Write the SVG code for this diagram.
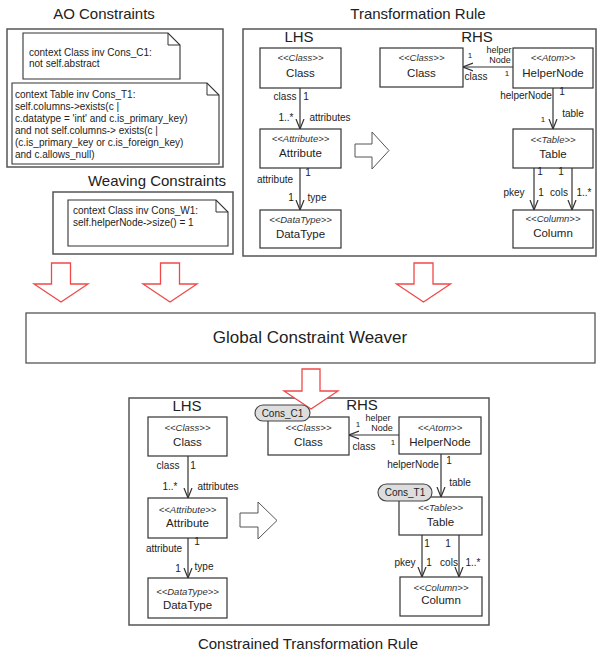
<svg xmlns="http://www.w3.org/2000/svg" width="597" height="652" viewBox="0 0 597 652">
<style>
text{font-family:"Liberation Sans",Arial,sans-serif;fill:#222}
.box{fill:#fff;stroke:#333;stroke-width:1.2}
.panel{fill:#fff;stroke:#555;stroke-width:1.5}
.note{fill:#fff;stroke:#333;stroke-width:1.1}
.fold{fill:none;stroke:#333;stroke-width:1}
.st{font-size:9.5px;font-style:italic;text-anchor:middle;fill:#333}
.nm{font-size:11.5px;text-anchor:middle}
.lb{font-size:10px;text-anchor:middle}
.hn{font-size:9px;text-anchor:middle}
.sm{font-size:8px;text-anchor:middle}
.tt{font-size:15px;text-anchor:middle}
.nt{font-size:10px}
.red{fill:#fff;stroke:#f04848;stroke-width:1.3}
.hol{fill:#fff;stroke:#555;stroke-width:1}
.pill{fill:#ddd;stroke:#444;stroke-width:1.1}
.ln{fill:none;stroke:#333;stroke-width:1.2;marker-end:url(#v)}
</style>
<defs>
<marker id="v" viewBox="0 0 10 10" markerWidth="10" markerHeight="10" refX="10" refY="5" orient="auto" markerUnits="userSpaceOnUse">
<path d="M0,1 L10,5 L0,9" fill="none" stroke="#333" stroke-width="1.2"/>
</marker>
</defs>

<!-- AO Constraints -->
<g id="ao-constraints">
<text class="tt" x="104" y="19">AO Constraints</text>
<rect class="panel" x="7" y="29" width="216" height="138"/>
<g id="note-c1">
<path class="note" d="M23,33 H168 L180,45 V79 H23 Z"/>
<path class="fold" d="M168,33 V45 H180"/>
<text class="nt" x="29" y="56">context Class inv Cons_C1:</text>
<text class="nt" x="29" y="67">not self.abstract</text>
</g>
<g id="note-t1">
<path class="note" d="M12,83 H207 L219,95 V164 H12 Z"/>
<path class="fold" d="M207,83 V95 H219"/>
<text class="nt" x="15" y="98">context Table inv Cons_T1:</text>
<text class="nt" x="15" y="110">self.columns-&gt;exists(c |</text>
<text class="nt" x="15" y="122">c.datatype = 'int' and c.is_primary_key)</text>
<text class="nt" x="15" y="134">and not self.columns-&gt; exists(c |</text>
<text class="nt" x="15" y="146">(c.is_primary_key or c.is_foreign_key)</text>
<text class="nt" x="15" y="158">and c.allows_null)</text>
</g>
</g>

<!-- Weaving Constraints -->
<g id="weaving-constraints">
<text class="tt" x="157" y="186">Weaving Constraints</text>
<rect class="panel" x="53" y="192" width="180" height="62"/>
<g id="note-w1">
<path class="note" d="M68,200 H216 L228,212 V246 H68 Z"/>
<path class="fold" d="M216,200 V212 H228"/>
<text class="nt" x="73" y="214">context Class inv Cons_W1:</text>
<text class="nt" x="73" y="226">self.helperNode-&gt;size() = 1</text>
</g>
</g>

<!-- Transformation Rule -->
<g id="transformation-rule">
<text class="tt" x="418" y="19">Transformation Rule</text>
<rect class="panel" x="243" y="29" width="353" height="227"/>
<text class="tt" x="299" y="42">LHS</text>
<text class="tt" x="477" y="42">RHS</text>
<polygon class="hol" points="355,144 372,144 372,132 389,150.5 372,169 372,157 355,157"/>
</g>
<g id="t-lhs-class"><rect class="box" x="260" y="48" width="81" height="40"/><text class="st" x="300.5" y="61">&lt;&lt;Class&gt;&gt;</text><text class="nm" x="300.5" y="77">Class</text></g>
<g id="t-lhs-attribute"><rect class="box" x="260" y="129" width="81" height="39"/><text class="st" x="300.5" y="142">&lt;&lt;Attribute&gt;&gt;</text><text class="nm" x="300.5" y="157">Attribute</text></g>
<g id="t-lhs-datatype"><rect class="box" x="260" y="210" width="81" height="38"/><text class="st" x="300.5" y="223">&lt;&lt;DataType&gt;&gt;</text><text class="nm" x="300.5" y="238">DataType</text></g>
<g id="t-rhs-class"><rect class="box" x="380" y="48" width="83" height="39"/><text class="st" x="421.5" y="61">&lt;&lt;Class&gt;&gt;</text><text class="nm" x="421.5" y="77">Class</text></g>
<g id="t-rhs-helpernode"><rect class="box" x="513" y="48" width="80" height="40"/><text class="st" x="553" y="61">&lt;&lt;Atom&gt;&gt;</text><text class="nm" x="553" y="77">HelperNode</text></g>
<g id="t-rhs-table"><rect class="box" x="513" y="129" width="80" height="39"/><text class="st" x="553" y="143">&lt;&lt;Table&gt;&gt;</text><text class="nm" x="553" y="158">Table</text></g>
<g id="t-rhs-column"><rect class="box" x="513" y="210" width="80" height="38"/><text class="st" x="553" y="222">&lt;&lt;Column&gt;&gt;</text><text class="nm" x="553" y="237">Column</text></g>

<!-- Global Constraint Weaver -->
<g id="weaver">
<rect class="box" x="26" y="313" width="569" height="50" style="stroke:#555;stroke-width:1.3"/>
<text x="310" y="343" style="font-size:17px;text-anchor:middle">Global Constraint Weaver</text>
</g>

<!-- Constrained Transformation Rule -->
<g id="constrained-rule">
<rect class="panel" x="129" y="398" width="360" height="227"/>
<text class="tt" x="308" y="649">Constrained Transformation Rule</text>
<text class="tt" x="187" y="411">LHS</text>
<text class="tt" x="362" y="410">RHS</text>
<polygon class="hol" points="240,513 258,513 258,502 277,520.5 258,539 258,527 240,527"/>
</g>
<g id="c-lhs-class"><rect class="box" x="148" y="417" width="79" height="39"/><text class="st" x="187.5" y="431">&lt;&lt;Class&gt;&gt;</text><text class="nm" x="187.5" y="446">Class</text></g>
<g id="c-lhs-attribute"><rect class="box" x="148" y="498" width="79" height="40"/><text class="st" x="187.5" y="513">&lt;&lt;Attribute&gt;&gt;</text><text class="nm" x="187.5" y="527">Attribute</text></g>
<g id="c-lhs-datatype"><rect class="box" x="148" y="578" width="79" height="40"/><text class="st" x="187.5" y="595">&lt;&lt;DataType&gt;&gt;</text><text class="nm" x="187.5" y="609">DataType</text></g>
<g id="c-rhs-class"><rect class="box" x="268" y="417" width="81" height="38"/><text class="st" x="308.5" y="431">&lt;&lt;Class&gt;&gt;</text><text class="nm" x="308.5" y="446">Class</text></g>
<g id="c-rhs-helpernode"><rect class="box" x="399" y="417" width="82" height="37"/><text class="st" x="440" y="431">&lt;&lt;Atom&gt;&gt;</text><text class="nm" x="440" y="446">HelperNode</text></g>
<g id="c-rhs-table"><rect class="box" x="399" y="497" width="83" height="38"/><text class="st" x="440.5" y="511">&lt;&lt;Table&gt;&gt;</text><text class="nm" x="440.5" y="526">Table</text></g>
<g id="c-rhs-column"><rect class="box" x="400" y="577" width="82" height="39"/><text class="st" x="441" y="591">&lt;&lt;Column&gt;&gt;</text><text class="nm" x="441" y="604">Column</text></g>

<!-- Connectors -->
<g id="connectors">
<line class="ln" x1="300" y1="88" x2="300" y2="129"/>
<line class="ln" x1="300" y1="168" x2="300" y2="210"/>
<line class="ln" x1="513" y1="67" x2="463" y2="67"/>
<line class="ln" x1="553" y1="88" x2="553" y2="129"/>
<line class="ln" x1="534" y1="168" x2="534" y2="210"/>
<line class="ln" x1="572" y1="168" x2="572" y2="210"/>
<line class="ln" x1="188" y1="456" x2="188" y2="498"/>
<line class="ln" x1="188" y1="538" x2="188" y2="578"/>
<line class="ln" x1="399" y1="435" x2="349" y2="435"/>
<line class="ln" x1="441" y1="454" x2="441" y2="497"/>
<line class="ln" x1="422" y1="535" x2="422" y2="577"/>
<line class="ln" x1="459" y1="535" x2="459" y2="577"/>
<polygon class="red" points="51.5,263 70.5,263 70.5,284 88,284 61,302 34,284 51.5,284"/>
<polygon class="red" points="160.5,263 179.5,263 179.5,284 197,284 170,302 143,284 160.5,284"/>
<polygon class="red" points="414,263 433,263 433,284 450.5,284 423.5,302 396.5,284 414,284"/>
<polygon class="red" points="302,369 320,369 320,391 338,391 311,409 284,391 302,391"/>
</g>

<!-- connector labels -->
<g id="labels">
<text class="lb" x="285" y="100">class</text>
<text class="lb" x="306" y="100">1</text>
<text class="lb" x="286" y="121">1..*</text>
<text class="lb" x="330" y="121">attributes</text>
<text class="lb" x="308" y="176">1</text>
<text class="lb" x="275" y="183">attribute</text>
<text class="lb" x="291" y="201">1</text>
<text class="lb" x="317" y="201">type</text>
<text class="hn" x="499" y="53">helper</text>
<text class="hn" x="500" y="63">Node</text>
<text class="sm" x="470" y="58">1</text>
<text class="lb" x="476" y="80">class</text>
<text class="sm" x="507" y="76">1</text>
<text class="lb" x="526" y="99">helperNode</text>
<text class="lb" x="562" y="95">1</text>
<text class="sm" x="543" y="122">1</text>
<text class="lb" x="573" y="117">table</text>
<text class="lb" x="540" y="175">1</text>
<text class="lb" x="561" y="175">1</text>
<text class="lb" x="514" y="196">pkey</text>
<text class="lb" x="541" y="196">1</text>
<text class="lb" x="559" y="196">cols</text>
<text class="lb" x="584" y="196">1..*</text>

<text class="lb" x="168" y="469">class</text>
<text class="lb" x="193" y="469">1</text>
<text class="lb" x="170" y="490">1..*</text>
<text class="lb" x="218" y="490">attributes</text>
<text class="lb" x="197" y="545">1</text>
<text class="lb" x="164" y="552">attribute</text>
<text class="lb" x="178" y="572">1</text>
<text class="lb" x="204" y="570">type</text>
<text class="hn" x="378" y="421">helper</text>
<text class="hn" x="382" y="431">Node</text>
<text class="sm" x="358" y="427">1</text>
<text class="lb" x="364" y="450">class</text>
<text class="sm" x="393" y="445">1</text>
<text class="lb" x="413" y="468">helperNode</text>
<text class="lb" x="449" y="464">1</text>
<text class="lb" x="460" y="486">table</text>
<text class="lb" x="427" y="547">1</text>
<text class="lb" x="448" y="547">1</text>
<text class="lb" x="405" y="566">pkey</text>
<text class="lb" x="429" y="566">1</text>
<text class="lb" x="449" y="566">cols</text>
<text class="lb" x="473" y="566">1..*</text>
</g>

<!-- constraint tags -->
<g id="tag-cons-c1"><rect class="pill" x="255" y="405" width="55" height="16" rx="8"/><text class="lb" x="282.5" y="417">Cons_C1</text></g>
<g id="tag-cons-t1"><rect class="pill" x="378" y="484" width="54" height="17" rx="8.5"/><text class="lb" x="405" y="496">Cons_T1</text></g>
</svg>
